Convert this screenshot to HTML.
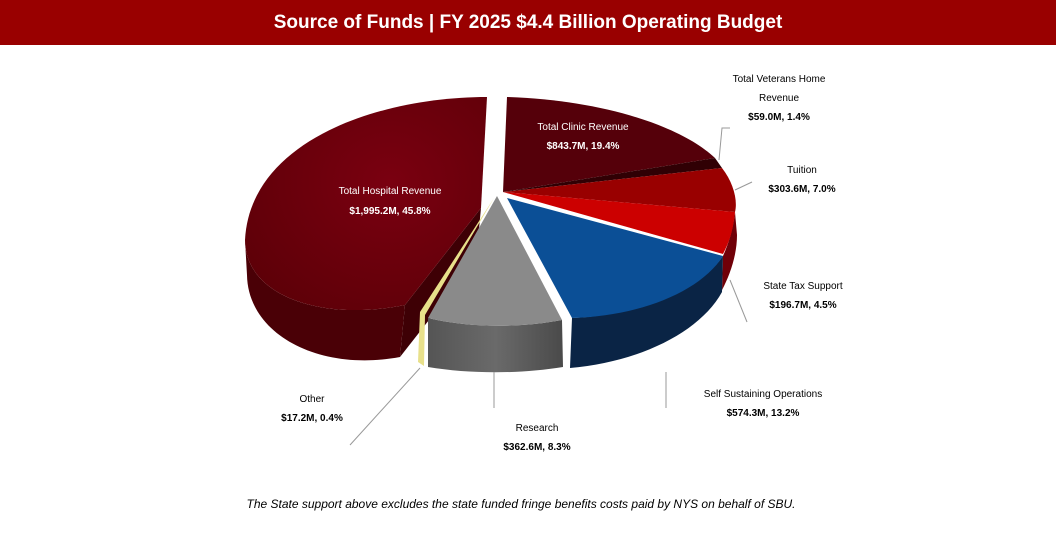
<!DOCTYPE html><html><head><style>body{margin:0;background:#fff}svg text{font-family:"Liberation Sans",sans-serif}</style></head><body>
<svg width="1056" height="540" viewBox="0 0 1056 540" xmlns="http://www.w3.org/2000/svg">
<defs>
<radialGradient id="hg" cx="0.6" cy="0.4" r="0.7"><stop offset="0" stop-color="#7a0010"/><stop offset="1" stop-color="#5e0008"/></radialGradient>
<linearGradient id="gs" x1="0" y1="0" x2="1" y2="0"><stop offset="0" stop-color="#555"/><stop offset="0.5" stop-color="#6a6a6a"/><stop offset="1" stop-color="#4a4a4a"/></linearGradient>
</defs>
<rect x="0" y="0" width="1056" height="45" fill="#990000"/>
<text x="528" y="28" text-anchor="middle" fill="#fff" font-size="19" font-weight="bold">Source of Funds | FY 2025 $4.4 Billion Operating Budget</text>
<!-- hospital -->
<path d="M245,240 C245,295 320,322 405,305 L400,357 C320,372 248,335 247,275 Z" fill="#4a0006"/>
<path d="M481,208 L405,305 L400,357 L476,260 Z" fill="#3e0005"/>
<path d="M481,208 L487,97 C380,97 250,140 245,240 C245,295 320,322 405,305 Z" fill="url(#hg)"/>
<!-- clinic -->
<path d="M503,192 L507,97 C600,100 680,125 715,158 Z" fill="#55000a"/>
<path d="M503,192 L715,158 L722,168 Z" fill="#300004"/>
<!-- tuition / state tax -->
<path d="M735,212 C733,230 728,245 723,256 L722,290 C730,275 737,255 737,235 Z" fill="#700008"/>
<path d="M503,192 L722,168 C733,182 738,200 735,212 Z" fill="#990000"/>
<path d="M503,192 L735,212 C733,232 729,242 723,254 Z" fill="#cc0000"/>
<!-- blue -->
<path d="M572,318 C640,315 700,290 723,256 L722,292 C700,332 640,362 570,368 Z" fill="#0a2445"/>
<path d="M507,198 L723,256 C700,292 640,316 572,318 Z" fill="#0b4f96"/>
<!-- gray -->
<path d="M428,318 C470,328 520,328 562,320 L563,367 C520,374 470,374 428,367 Z" fill="url(#gs)"/>
<path d="M497,196 L562,320 C520,328 470,328 428,318 Z" fill="#8a8a8a"/>
<!-- yellow -->
<path d="M494,198 L425,315 L424,366 L418,362 L420,312 Z" fill="#e8e08a"/>
<g fill="#fff" font-size="10" text-anchor="middle">
<text x="390" y="194">Total Hospital Revenue</text><text x="390" y="214" font-weight="bold">$1,995.2M, 45.8%</text>
<text x="583" y="130">Total Clinic Revenue</text><text x="583" y="149" font-weight="bold">$843.7M, 19.4%</text>
</g>
<g stroke="#999" fill="none" stroke-width="1">
<path d="M719,160 L722,128 L730,128"/><path d="M735,190 L752,182"/><path d="M730,280 L747,322"/>
<path d="M666,372 L666,408"/><path d="M494,372 L494,408"/><path d="M420,368 L350,445"/>
</g>
<g fill="#000" font-size="10" text-anchor="middle">
<text x="779" y="82">Total Veterans Home</text><text x="779" y="101">Revenue</text><text x="779" y="120" font-weight="bold">$59.0M, 1.4%</text>
<text x="802" y="173">Tuition</text><text x="802" y="192" font-weight="bold">$303.6M, 7.0%</text>
<text x="803" y="289">State Tax Support</text><text x="803" y="308" font-weight="bold">$196.7M, 4.5%</text>
<text x="763" y="397">Self Sustaining Operations</text><text x="763" y="416" font-weight="bold">$574.3M, 13.2%</text>
<text x="537" y="431">Research</text><text x="537" y="450" font-weight="bold">$362.6M, 8.3%</text>
<text x="312" y="402">Other</text><text x="312" y="421" font-weight="bold">$17.2M, 0.4%</text>
</g>
<text x="521" y="508" text-anchor="middle" font-size="12" font-style="italic" fill="#000">The State support above excludes the state funded fringe benefits costs paid by NYS on behalf of SBU.</text>
</svg>
</body></html>
